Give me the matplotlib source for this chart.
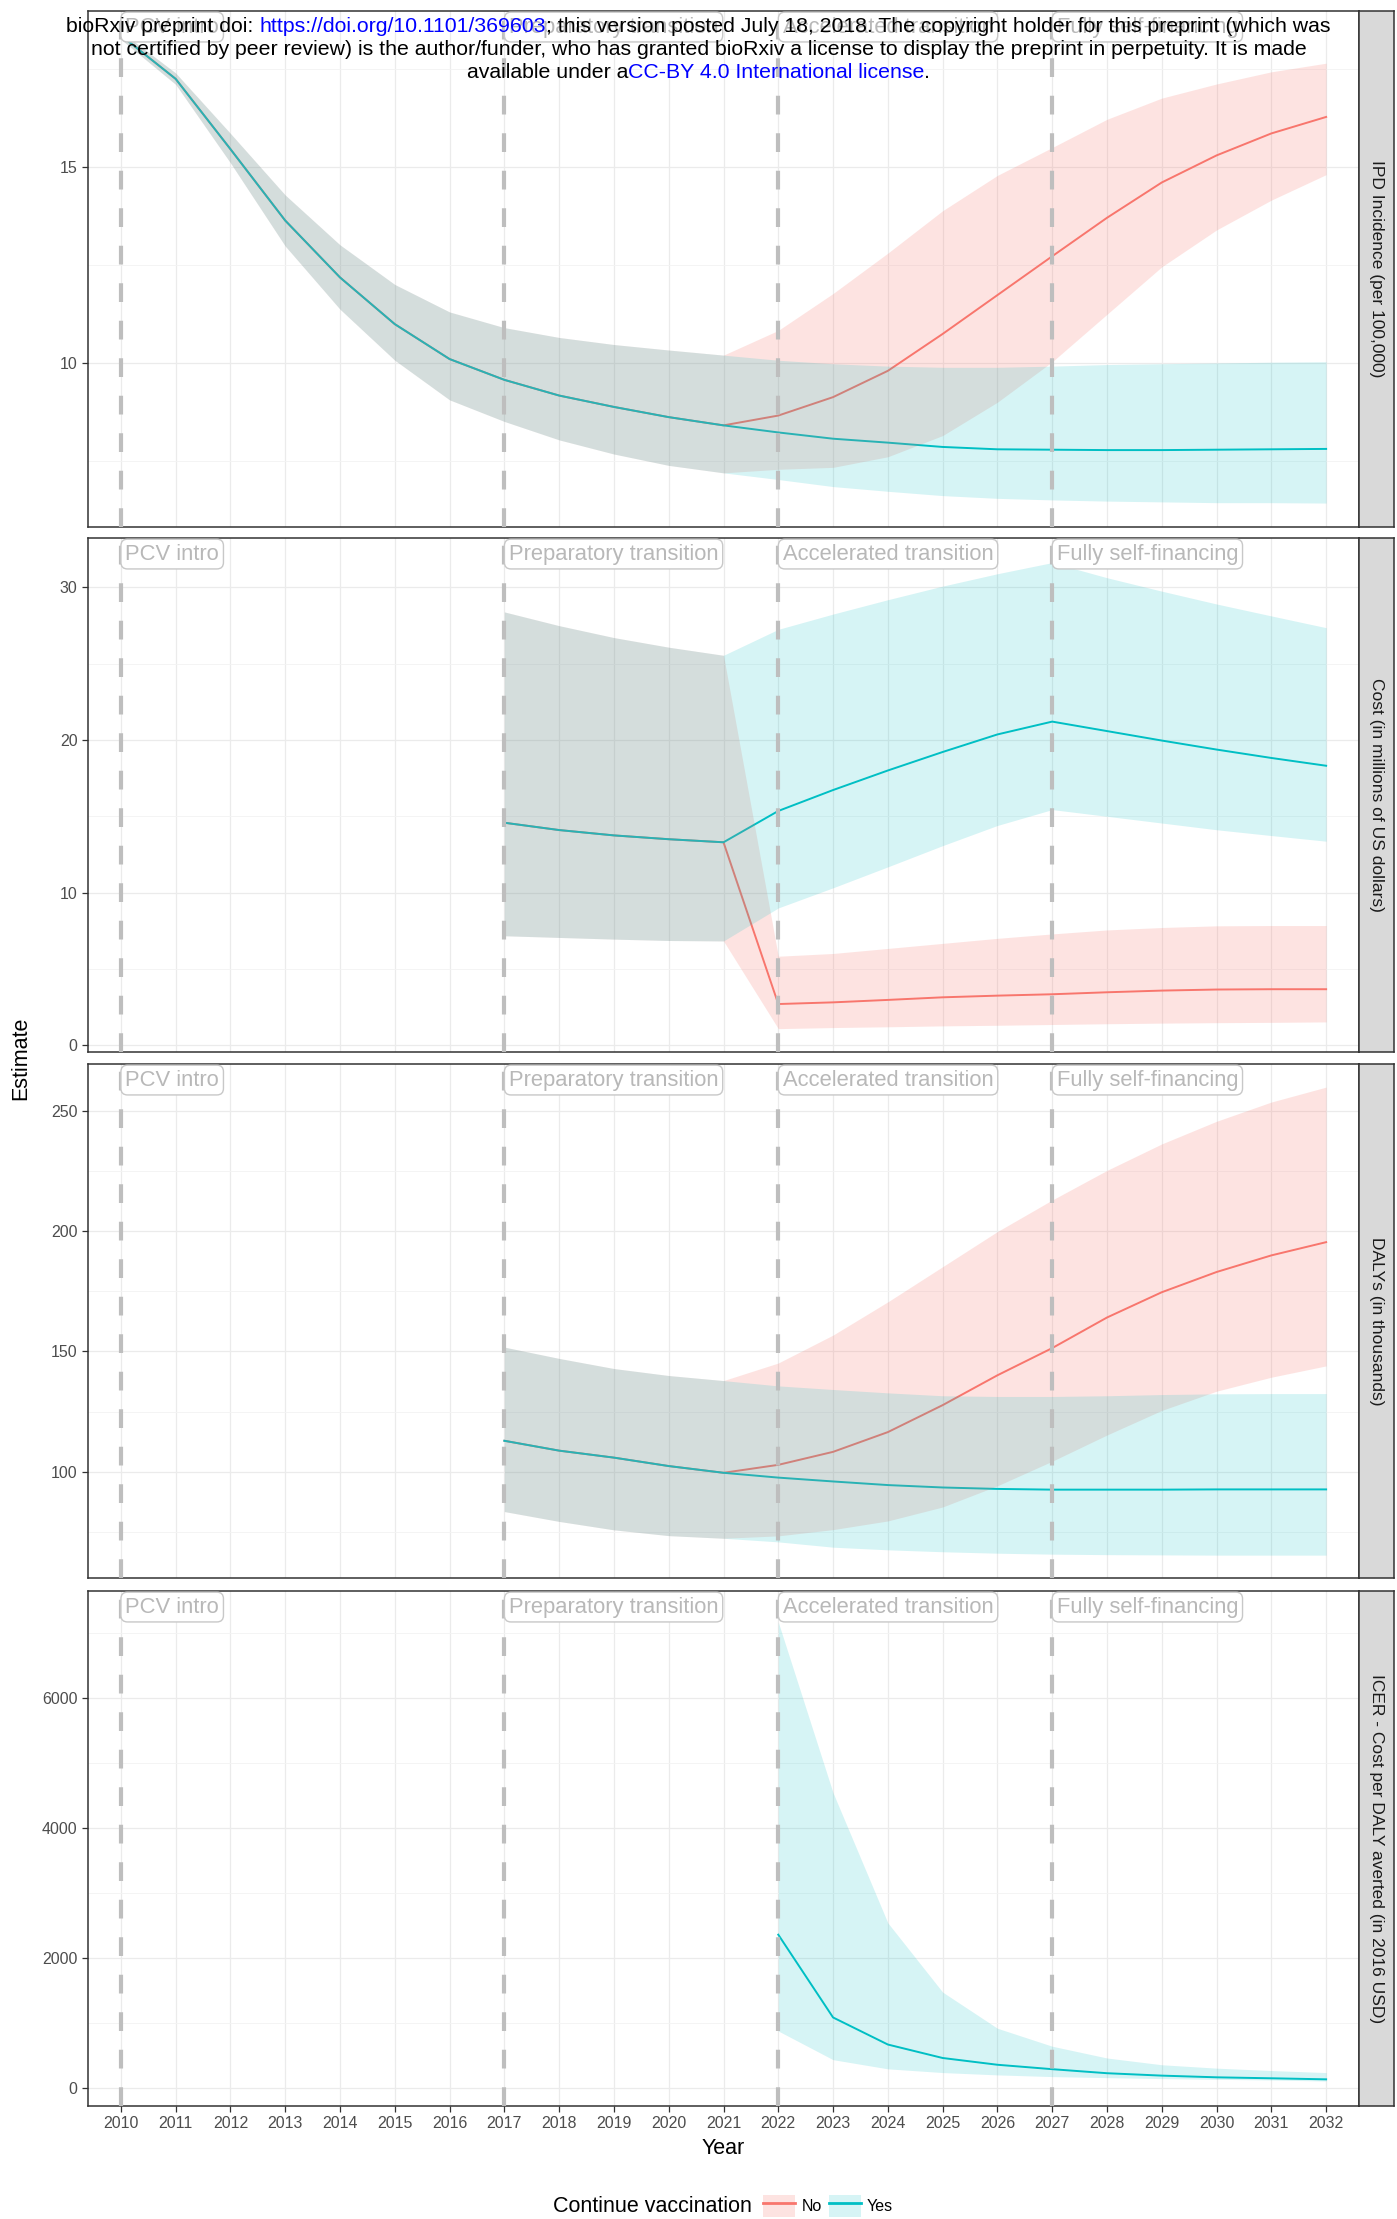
import numpy as np
import matplotlib.pyplot as plt
from matplotlib.lines import Line2D
from matplotlib.patches import Patch
from matplotlib.legend_handler import HandlerTuple
from matplotlib.offsetbox import TextArea, HPacker, VPacker, AnnotationBbox

plt.rcParams['font.family'] = ['Liberation Sans', 'DejaVu Sans']

RED = '#F8766D'
TEAL = '#00BFC4'

years = list(range(2010, 2033))
tail_years = list(range(2022, 2033))

# IPD incidence (per 100,000): shared history 2010-2021, then the two branches
ipd_hist = [18.35, 17.24, 15.45, 13.63, 12.18, 10.99, 10.10, 9.57, 9.17, 8.88, 8.62, 8.41]
ipd_hist_hi = [18.45, 17.39, 15.85, 14.28, 13.01, 12.0, 11.3, 10.9, 10.65, 10.47, 10.33, 10.2]
ipd_hist_lo = [18.25, 17.1, 15.1, 12.98, 11.37, 10.07, 9.06, 8.51, 8.04, 7.68, 7.39, 7.2]
ipd_yes = [8.23, 8.07, 7.97, 7.86, 7.80, 7.79, 7.78, 7.78, 7.79, 7.80, 7.81]
ipd_yes_hi = [10.07, 9.98, 9.92, 9.89, 9.89, 9.92, 9.96, 9.98, 10.0, 10.02, 10.03]
ipd_yes_lo = [7.03, 6.85, 6.73, 6.62, 6.55, 6.51, 6.48, 6.46, 6.44, 6.44, 6.43]
ipd_no = [8.66, 9.13, 9.80, 10.74, 11.73, 12.72, 13.70, 14.60, 15.29, 15.85, 16.27]
ipd_no_hi = [10.83, 11.77, 12.80, 13.88, 14.78, 15.49, 16.21, 16.75, 17.11, 17.42, 17.64]
ipd_no_lo = [7.29, 7.34, 7.61, 8.15, 9.0, 10.03, 11.24, 12.45, 13.39, 14.15, 14.80]

# Cost (millions of US dollars): history 2017-2021
cost_hist_years = list(range(2017, 2022))
cost_hist = [14.58, 14.1, 13.75, 13.5, 13.3]
cost_hist_hi = [28.38, 27.48, 26.7, 26.07, 25.54]
cost_hist_lo = [7.18, 7.07, 6.96, 6.87, 6.84]
cost_yes = [15.35, 16.72, 18.0, 19.21, 20.36, 21.2, 20.58, 19.96, 19.37, 18.82, 18.31]
cost_yes_hi = [27.24, 28.24, 29.18, 30.07, 30.88, 31.61, 30.62, 29.74, 28.9, 28.12, 27.35]
cost_yes_lo = [9.0, 10.32, 11.69, 13.08, 14.4, 15.44, 15.0, 14.56, 14.12, 13.74, 13.37]
cost_no = [2.71, 2.82, 2.98, 3.15, 3.26, 3.35, 3.48, 3.59, 3.66, 3.68, 3.68]
cost_no_hi = [5.84, 6.02, 6.35, 6.68, 7.01, 7.3, 7.56, 7.72, 7.83, 7.85, 7.85]
cost_no_lo = [1.1, 1.17, 1.22, 1.28, 1.32, 1.37, 1.42, 1.46, 1.49, 1.51, 1.54]

# DALYs (thousands): history 2017-2021
daly_hist_years = list(range(2017, 2022))
daly_hist = [112.9, 108.8, 105.9, 102.4, 99.6]
daly_hist_hi = [151.8, 147.1, 142.9, 140.0, 137.9]
daly_hist_lo = [83.5, 79.4, 75.9, 73.5, 72.4]
daly_yes = [97.6, 96.0, 94.5, 93.5, 92.9, 92.6, 92.6, 92.6, 92.7, 92.7, 92.7]
daly_yes_hi = [135.7, 134.2, 132.8, 131.6, 131.3, 131.3, 131.6, 132.1, 132.4, 132.5, 132.5]
daly_yes_lo = [70.9, 68.7, 67.6, 66.8, 66.2, 65.8, 65.6, 65.5, 65.4, 65.4, 65.4]
daly_no = [102.9, 108.3, 116.5, 127.7, 140.1, 151.4, 164.1, 174.6, 183.0, 189.9, 195.4]
daly_no_hi = [145.2, 156.8, 170.6, 185.2, 199.8, 212.9, 225.2, 236.2, 245.6, 253.6, 259.8]
daly_no_lo = [73.4, 76.0, 79.6, 85.4, 94.2, 104.4, 115.3, 125.5, 133.5, 139.3, 144.0]

# ICER (cost per DALY averted, 2016 USD), only for continued vaccination
icer_yes = [2364, 1091, 675, 468, 364, 296, 234, 197, 171, 156, 140]
icer_yes_hi = [7169, 4545, 2545, 1481, 925, 649, 468, 364, 312, 275, 244]
icer_yes_lo = [883, 442, 301, 244, 208, 182, 166, 151, 140, 130, 114]

phase_years = [2010, 2017, 2022, 2027]
phase_names = ['PCV intro', 'Preparatory transition', 'Accelerated transition', 'Fully self-financing']

strip_labels = ['IPD Incidence (per 100,000)', 'Cost (in millions of US dollars)',
                'DALYs (in thousands)', 'ICER - Cost per DALY averted (in 2016 USD)']

# (x, yes, yes_hi, yes_lo, no, no_hi, no_lo) per panel
panels = [
    (years, ipd_hist + ipd_yes, ipd_hist_hi + ipd_yes_hi, ipd_hist_lo + ipd_yes_lo,
     ipd_hist + ipd_no, ipd_hist_hi + ipd_no_hi, ipd_hist_lo + ipd_no_lo),
    (cost_hist_years + tail_years, cost_hist + cost_yes, cost_hist_hi + cost_yes_hi, cost_hist_lo + cost_yes_lo,
     cost_hist + cost_no, cost_hist_hi + cost_no_hi, cost_hist_lo + cost_no_lo),
    (daly_hist_years + tail_years, daly_hist + daly_yes, daly_hist_hi + daly_yes_hi, daly_hist_lo + daly_yes_lo,
     daly_hist + daly_no, daly_hist_hi + daly_no_hi, daly_hist_lo + daly_no_lo),
    (tail_years, icer_yes, icer_yes_hi, icer_yes_lo, None, None, None),
]

ylims = [(5.82, 18.97), (-0.43, 33.22), (55.9, 269.4), (-270, 7647)]
major = [[10, 15], [0, 10, 20, 30], [100, 150, 200, 250], [0, 2000, 4000, 6000]]
minor = [[7.5, 12.5, 17.5], [5, 15, 25], [75, 125, 175, 225], [1000, 3000, 5000, 7000]]

W, H = 1397, 2219
fig = plt.figure(figsize=(W / 100, H / 100), dpi=100)
panel_px = [(11, 527), (538, 1052), (1064, 1578), (1591, 2106)]
left_px, right_px, strip_r = 88, 1359, 1394

for i, (t, b) in enumerate(panel_px):
    ax = fig.add_axes([left_px / W, 1 - b / H, (right_px - left_px) / W, (b - t) / H])
    x, y, hi, lo, yn, hin, lon = panels[i]

    # lines first, ribbons on top (as in the original)
    if yn is not None:
        ax.plot(x, yn, color=RED, lw=1.4, zorder=2)
    ax.plot(x, y, color=TEAL, lw=1.4, zorder=2)
    if yn is not None:
        ax.fill_between(x, lon, hin, color=RED, alpha=0.2, lw=0, zorder=2.5)
    ax.fill_between(x, lo, hi, color=TEAL, alpha=0.16, lw=0, zorder=2.5)

    for yr in phase_years:
        ax.axvline(yr, color='#BEBEBE', lw=3, dashes=(4.5, 4.5), zorder=3)
    for yr, name in zip(phase_years, phase_names):
        ax.annotate(name, xy=(yr, 1), xycoords=('data', 'axes fraction'),
                    xytext=(3.2, -4.0), textcoords='offset points', ha='left', va='top',
                    fontsize=15.8, color='#B8B8B8', zorder=5,
                    bbox=dict(boxstyle='round,pad=0.2,rounding_size=0.3', fc='white',
                              ec='#C8C8C8', lw=1))

    ax.set_xlim(2009.4, 2032.6)
    ax.set_ylim(*ylims[i])
    ax.set_xticks(years)
    ax.set_xticklabels([str(v) for v in years])
    ax.set_yticks(major[i])
    ax.set_yticks(minor[i], minor=True)
    ax.grid(which='major', color='#EBEBEB', lw=0.9)
    ax.grid(which='minor', axis='y', color='#F3F3F3', lw=0.6)
    ax.set_axisbelow(True)
    ax.tick_params(which='minor', length=0)
    ax.tick_params(which='major', labelsize=11.5, labelcolor='#4D4D4D', color='#333333',
                   length=4, width=0.9)
    if i < 3:
        ax.tick_params(axis='x', length=0, labelbottom=False)
    for s in ax.spines.values():
        s.set_color('#333333')
        s.set_linewidth(1.1)

    sax = fig.add_axes([right_px / W, 1 - b / H, (strip_r - right_px) / W, (b - t) / H])
    sax.set_facecolor('#D9D9D9')
    sax.set_xticks([])
    sax.set_yticks([])
    for s in sax.spines.values():
        s.set_color('#333333')
        s.set_linewidth(1.1)
    sax.text(0.5, 0.5, strip_labels[i], rotation=270, ha='center', va='center',
             fontsize=12.5, color='#1A1A1A', transform=sax.transAxes)

fig.text(723 / W, 1 - 2149 / H, 'Year', ha='center', va='center', fontsize=15.5)
fig.text(21 / W, 1 - 1058 / H, 'Estimate', ha='center', va='center', rotation=90, fontsize=15.5)

# legend
fig.text(752 / W, 1 - 2207 / H, 'Continue vaccination', ha='right', va='center', fontsize=15.5)
handles = [(Patch(facecolor=RED, alpha=0.2, edgecolor='none'), Line2D([], [], color=RED, lw=2)),
           (Patch(facecolor=TEAL, alpha=0.16, edgecolor='none'), Line2D([], [], color=TEAL, lw=2))]
fig.legend(handles, ['No', 'Yes'], handler_map={tuple: HandlerTuple()}, ncol=2,
           loc='center left', bbox_to_anchor=(763 / W, 1 - 2206 / H), frameon=False,
           fontsize=11.5, handlelength=2.0, handleheight=1.75, handletextpad=0.4,
           columnspacing=0.45, borderpad=0, borderaxespad=0)

# bioRxiv watermark
fs = 15.3


def ta(s, c='black'):
    return TextArea(s, textprops=dict(color=c, fontsize=fs))


sp = 0.278 * fs
line1 = HPacker(children=[
    HPacker(children=[ta('bioRxiv preprint doi:'), ta('https://doi.org/10.1101/369603', 'blue')],
            pad=0, sep=sp, align='baseline'),
    ta('; this version posted July 18, 2018. The copyright holder for this preprint (which was')],
    pad=0, sep=0, align='baseline')
line2 = ta('not certified by peer review) is the author/funder, who has granted bioRxiv a license '
           'to display the preprint in perpetuity. It is made')
line3 = HPacker(children=[ta('available under a'), ta('CC-BY 4.0 International license', 'blue'), ta('.')],
                pad=0, sep=0, align='baseline')
box = VPacker(children=[line1, line2, line3], align='center', pad=0, sep=2.8)
ab = AnnotationBbox(box, (0.5, 1 - 17 / H), xycoords='figure fraction', box_alignment=(0.5, 1),
                    frameon=False, zorder=10)
fig.add_artist(ab)

fig.savefig('out.png', dpi=100)
